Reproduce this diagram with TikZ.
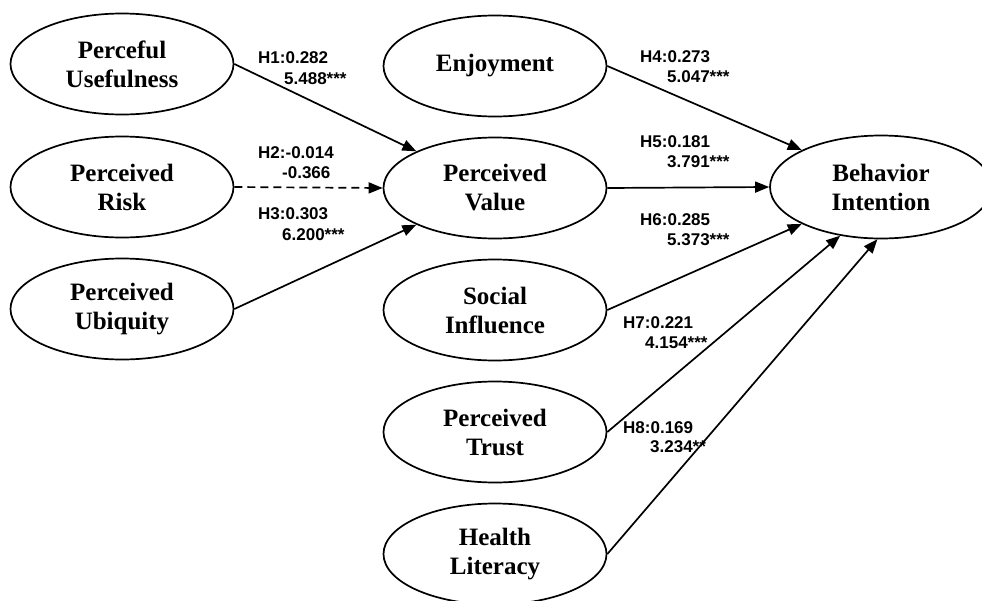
\documentclass[tikz,border=0pt]{standalone}
\usepackage{fontspec}
\setmainfont{Liberation Serif}
\newfontfamily\labfont{Liberation Sans}
\usetikzlibrary{shapes.geometric,arrows.meta}
\tikzset{
  construct/.style={draw, ellipse, line width=1.7pt, minimum width=223pt, minimum height=101pt,
    inner sep=0pt, align=center, font=\bfseries\fontsize{25}{29}\selectfont},
  bigconstruct/.style={construct, minimum width=222pt, minimum height=103pt},
  path/.style={line width=1.7pt, -{Triangle[length=14pt,width=11pt]}},
  dpath/.style={path, dash pattern=on 8pt off 5pt},
  lab/.style={anchor=base west, inner sep=0pt, font=\labfont\bfseries\fontsize{17}{20}\selectfont}
}
\begin{document}
\begin{tikzpicture}[x=1pt,y=-1pt]
\clip (0,0) rectangle (982,600);
\fill[white] (0,0) rectangle (982,600);
% constructs
\node[construct] (pu)  at (122,64)  {Perceful\\Usefulness};
\node[construct] (pr)  at (122,187) {Perceived\\Risk};
\node[construct] (pub) at (122,309) {Perceived\\Ubiquity};
\node[construct] (en)  at (495,66)  {Enjoyment};
\node[construct] (pv)  at (495,188) {Perceived\\Value};
\node[construct] (si)  at (495,310) {Social\\Influence};
\node[construct] (pt)  at (495,432) {Perceived\\Trust};
\node[construct] (hl)  at (495,554) {Health\\Literacy};
\node[bigconstruct] (bi) at (881,187) {Behavior\\Intention};
% paths
\draw[path]  (pu.east)  -- (pv.155);
\draw[dpath] (pr.east)  -- (pv.west);
\draw[path]  (pub.east) -- (pv.205);
\draw[path]  (en.east)  -- (bi.155);
\draw[path]  (pv.east)  -- (bi.west);
\draw[path]  (si.east)  -- (bi.205);
\draw[path]  (pt.east)  -- (bi.230);
\draw[path]  (hl.east)  -- (bi.266);
% labels
\node[lab] (h1a) at (258,63)  {H1:0.282};
\node[lab] (h1b) at (284,84)  {5.488***};
\node[lab] (h2a) at (258,158) {H2:-0.014};
\node[lab] (h2b) at (282,178) {-0.366};
\node[lab] (h3a) at (258,219) {H3:0.303};
\node[lab] (h3b) at (282,240) {6.200***};
\node[lab] (h4a) at (640,62)  {H4:0.273};
\node[lab] (h4b) at (667,82)  {5.047***};
\node[lab] (h5a) at (640,147) {H5:0.181};
\node[lab] (h5b) at (667,167) {3.791***};
\node[lab] (h6a) at (640,225) {H6:0.285};
\node[lab] (h6b) at (667,245) {5.373***};
\node[lab] (h7a) at (623,328) {H7:0.221};
\node[lab] (h7b) at (645,348) {4.154***};
\node[lab] (h8a) at (623,433) {H8:0.169};
\node[lab] (h8b) at (650,452) {3.234**};
\end{tikzpicture}
\end{document}
